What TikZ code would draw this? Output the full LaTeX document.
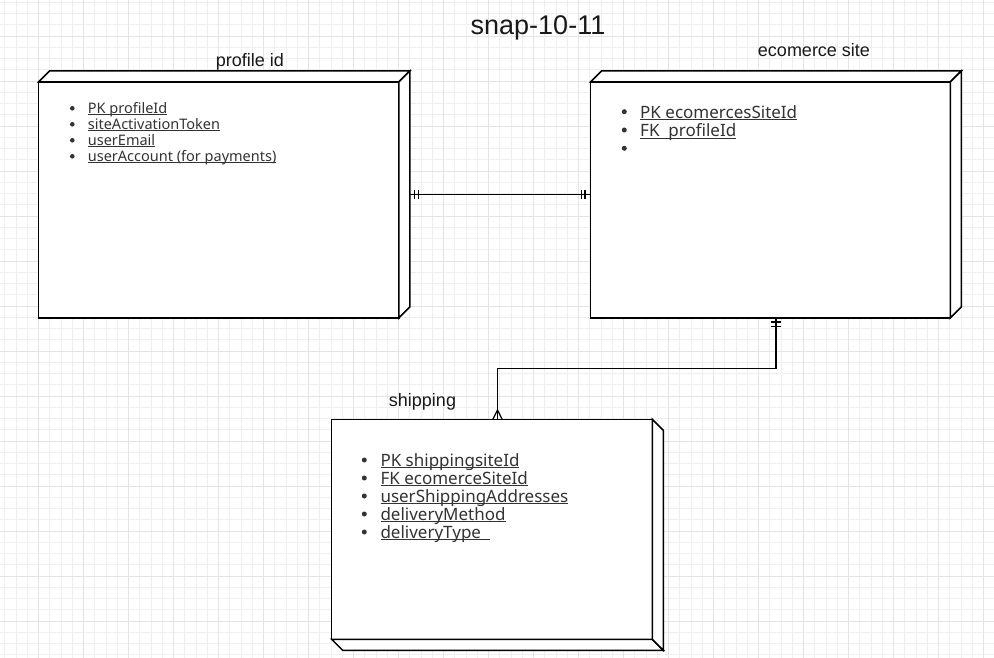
\documentclass[tikz,border=0pt]{standalone}
\usepackage{fontspec}
\setmainfont{Liberation Sans}
\newfontfamily\listfont{Noto Sans}
\usetikzlibrary{calc}
\definecolor{gridminor}{RGB}{239,239,239}
\definecolor{gridmajor}{RGB}{228,228,228}
\definecolor{txt}{RGB}{51,51,51}
\newcommand\myul[1]{\setbox0\hbox{#1}\rlap{\rule[-1.7pt]{\wd0}{0.9pt}}\box0}
\tikzset{
  front/.style={draw=black, fill=white, line width=1.5pt, inner sep=0pt, outer sep=0pt},
  face/.style={draw=black, fill=white, line width=1.5pt, line join=miter},
  conn/.style={draw=black, line width=1.2pt},
  tickmk/.style={draw=black, line width=1.2pt},
  btitle/.style={anchor=base, inner sep=0pt, font=\fontsize{18}{20}\selectfont, text=black!90},
  itemS/.style={anchor=base west, inner sep=0pt, text=txt, font=\listfont\fontsize{14.5}{16}\selectfont},
  itemL/.style={anchor=base west, inner sep=0pt, text=txt, font=\listfont\fontsize{17}{19}\selectfont},
  bul/.style={fill=txt},
}
\begin{document}
\begin{tikzpicture}[x=1pt,y=-1pt]
\useasboundingbox (0,0) rectangle (994,658);
\fill[white] (0,0) rectangle (994,658);
% grid
\foreach \i in {0,...,88} {\pgfmathsetmacro\gx{floor(4.75+11.25*\i)+0.5}\draw[gridminor, line width=1pt] (\gx,0) -- (\gx,658);}
\foreach \i in {0,...,58} {\pgfmathsetmacro\gy{floor(2.25+11.25*\i)+0.5}\draw[gridminor, line width=1pt] (0,\gy) -- (994,\gy);}
\foreach \i in {0,...,21} {\pgfmathsetmacro\gx{floor(38.5+45*\i)+0.5}\draw[gridmajor, line width=1pt] (\gx,0) -- (\gx,658);}
\foreach \i in {0,...,13} {\pgfmathsetmacro\gy{floor(36+45*\i)+0.5}\draw[gridmajor, line width=1pt] (0,\gy) -- (994,\gy);}

% title
\node[anchor=base, inner sep=0pt, font=\fontsize{27}{30}\selectfont, text=black!90] (ttl) at (538,34.3) {snap-10-11};

% profile box
\node[front, minimum width=360.3pt, minimum height=236pt] (prof) at (218.65,200) {};
\draw[face] (prof.north west) -- ++(11,-11) -- ($(prof.north east)+(11,-11)$) -- (prof.north east) -- cycle;
\draw[face] (prof.north east) -- ++(11,-11) -- ($(prof.south east)+(11,-11)$) -- (prof.south east) -- cycle;
\node[btitle] (tprof) at (250,67) {profile id};

% ecomerce box
\node[front, minimum width=359.8pt, minimum height=236pt] (ecom) at (770.4,200) {};
\draw[face] (ecom.north west) -- ++(11,-11) -- ($(ecom.north east)+(11,-11)$) -- (ecom.north east) -- cycle;
\draw[face] (ecom.north east) -- ++(11,-11) -- ($(ecom.south east)+(11,-11)$) -- (ecom.south east) -- cycle;
\node[btitle] (tecom) at (814,56.7) {ecomerce site};

% shipping box
\node[front, minimum width=320.6pt, minimum height=220pt] (ship) at (492,529.3) {};
\draw[face] (ship.south west) -- ++(11,11) -- ($(ship.south east)+(11,11)$) -- (ship.south east) -- cycle;
\draw[face] (ship.north east) -- ++(11,11) -- ($(ship.south east)+(11,11)$) -- (ship.south east) -- cycle;
\node[btitle] (tship) at (422.5,406.5) {shipping};

% profile list
\foreach \yb in {108.3,124.3,140.3,156.3} {\fill[bul] (72.3,\yb) circle[radius=2.3];}
\node[itemS] (pl1) at (87.7,113.3) {\myul{PK profileId}};
\node[itemS] (pl2) at (87.7,129.3) {\myul{siteActivationToken}};
\node[itemS] (pl3) at (87.7,145.3) {\myul{userEmail}};
\node[itemS] (pl4) at (87.7,161.3) {\myul{userAccount (for payments)}};

% ecomerce list
\foreach \yb in {111.7,130,148.3} {\fill[bul] (624.3,\yb) circle[radius=2.5];}
\node[itemL] (el1) at (640,118.5) {\myul{PK ecomercesSiteId}};
\node[itemL] (el2) at (640,136.8) {\myul{FK\ \ profileId}};

% shipping list
\foreach \yb in {460,478,496,514,532} {\fill[bul] (364.3,\yb) circle[radius=2.5];}
\node[itemL] (sl1) at (380.3,466) {\myul{PK shippingsiteId}};
\node[itemL] (sl2) at (380.3,484) {\myul{FK ecomerceSiteId}};
\node[itemL] (sl3) at (380.3,502) {\myul{userShippingAddresses}};
\node[itemL] (sl4) at (380.3,520) {\myul{deliveryMethod}};
\node[itemL] (sl5) at (380.3,538) {\myul{deliveryType\ \ }};

% connector profile -- ecomerce
\coordinate (p1) at ($(prof.east)+(11,-5.5)$);
\coordinate (e1) at ($(ecom.west)+(0,-5.5)$);
\draw[conn] (p1) -- (e1);
\draw[tickmk] ($(p1)+(5,-4.5)$) -- ($(p1)+(5,4.5)$);
\draw[tickmk] ($(p1)+(9,-4.5)$) -- ($(p1)+(9,4.5)$);
\draw[tickmk] ($(e1)+(-5.5,-4.5)$) -- ($(e1)+(-5.5,4.5)$);
\draw[tickmk] ($(e1)+(-9.2,-4.5)$) -- ($(e1)+(-9.2,4.5)$);

% connector ecomerce -- shipping
\coordinate (e2) at ($(ecom.south)+(5.5,0)$);
\coordinate (s2) at ($(ship.north)+(5.5,0)$);
\draw[conn] (e2) |- ($(e2)!0.5!(s2)$) -| (s2);
\draw[tickmk] ($(e2)+(-4.7,4)$) -- ($(e2)+(4.7,4)$);
\draw[tickmk] ($(e2)+(-4.7,8.7)$) -- ($(e2)+(4.7,8.7)$);
\draw[conn] ($(s2)+(-4.7,0)$) -- ($(s2)+(0,-9.3)$) -- ($(s2)+(4.7,0)$);
\end{tikzpicture}
\end{document}
